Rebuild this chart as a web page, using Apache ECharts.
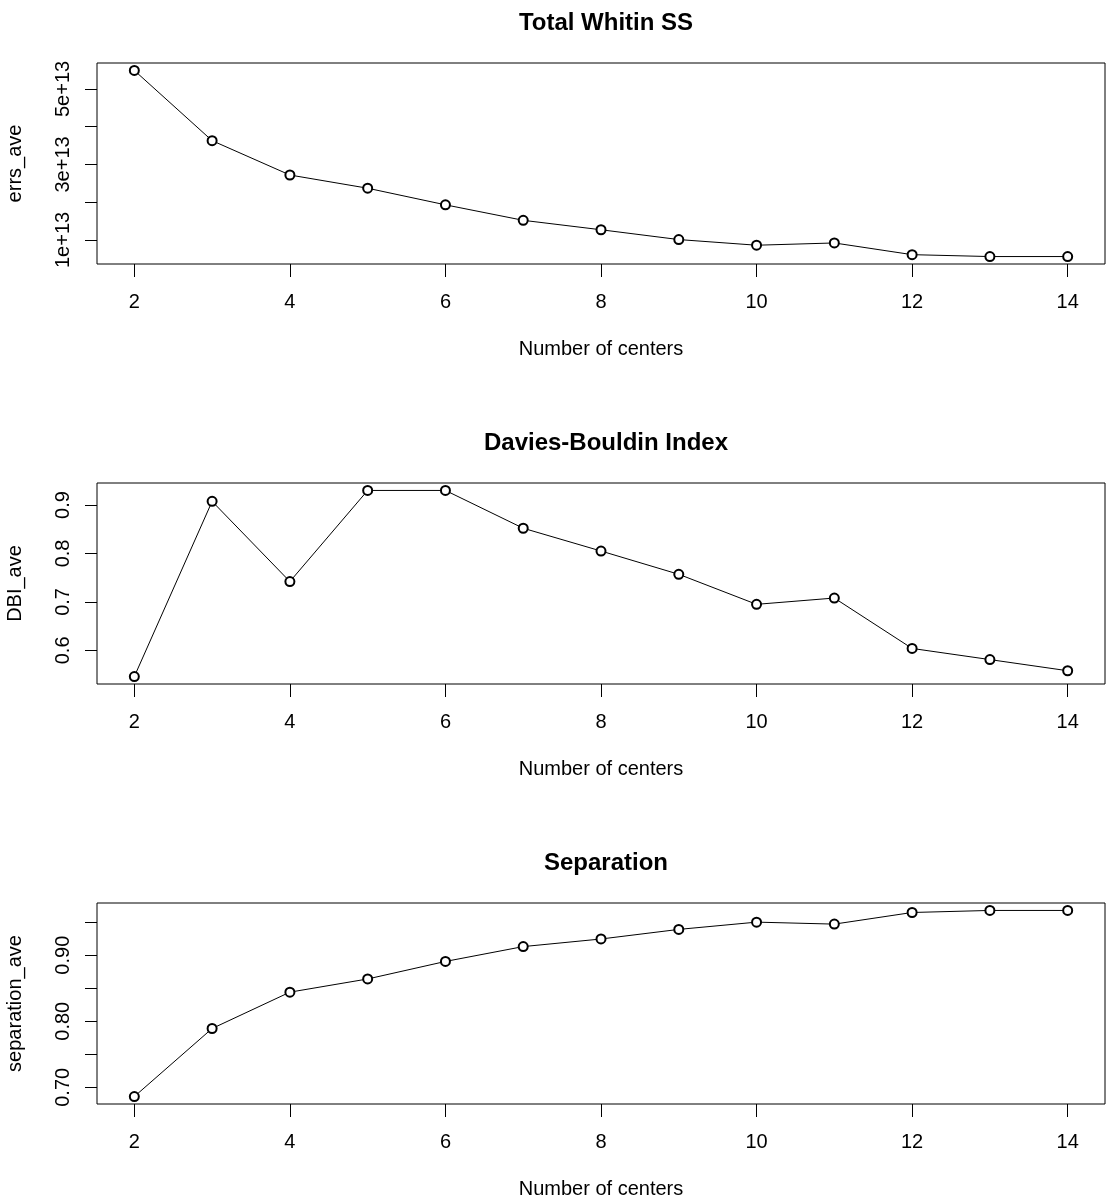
<!DOCTYPE html>
<html>
<head>
<meta charset="utf-8">
<script src="https://cdn.jsdelivr.net/npm/echarts@6/dist/echarts.min.js"></script>
<style>
  html, body { margin: 0; padding: 0; background: #fff; }
  #chart { width: 1110px; height: 1200px; }
</style>
</head>
<body>
<div id="chart"></div>
<script>
// number of centers (x)
const centers = [2, 3, 4, 5, 6, 7, 8, 9, 10, 11, 12, 13, 14]
// values
const errsAve = [5.49e13, 3.63e13, 2.72e13, 2.37e13, 1.93e13, 1.52e13, 1.27e13, 1.01e13, 0.86e13, 0.92e13, 0.61e13, 0.56e13, 0.56e13]
const dbiAve = [0.546, 0.9075, 0.742, 0.930, 0.930, 0.852, 0.805, 0.757, 0.695, 0.708, 0.604, 0.581, 0.558]
const separationAve = [0.686, 0.789, 0.844, 0.864, 0.8905, 0.913, 0.9245, 0.939, 0.950, 0.947, 0.9646, 0.9677, 0.9677]
// tick marks / labels
const xTicks = [2, 4, 6, 8, 10, 12, 14]
const errsTicks = [1e13, 2e13, 3e13, 4e13, 5e13]
const errsLabels = [1e13, 3e13, 5e13]
const dbiTicks = [0.6, 0.7, 0.8, 0.9]
const sepTicks = [0.70, 0.75, 0.80, 0.85, 0.90, 0.95]
const sepLabels = [0.70, 0.80, 0.90]

const titles = ['Total Whitin SS', 'Davies-Bouldin Index', 'Separation']
const yNames = ['errs_ave', 'DBI_ave', 'separation_ave']
const xName = 'Number of centers'

const FONT = 'Liberation Sans, Arial, sans-serif'

// R style 4% padding of axis range
function rRange (arr) {
  const lo = Math.min(...arr)
  const hi = Math.max(...arr)
  const pad = (hi - lo) * 0.04
  return [lo - pad, hi + pad]
}

const chart = echarts.init(document.getElementById('chart'))

const gridTops = [63, 483, 903]
const xr = rRange(centers)
const panels = [
  { data: errsAve, ticks: errsTicks, labels: errsLabels, fmt: v => Math.round(v / 1e13) + 'e+13' },
  { data: dbiAve, ticks: dbiTicks, labels: dbiTicks, fmt: v => v.toFixed(1) },
  { data: separationAve, ticks: sepTicks, labels: sepLabels, fmt: v => v.toFixed(2) }
]

const grid = []
const xAxis = []
const yAxis = []
const series = []
const title = []

panels.forEach((p, i) => {
  grid.push({
    left: 97, top: gridTops[i], width: 1008, height: 201,
    show: true, borderColor: '#000', borderWidth: 1,
    outerBoundsMode: 'none'
  })
  title.push({
    text: titles[i],
    left: 601,
    top: gridTops[i] - 57,
    textAlign: 'center',
    textStyle: { fontFamily: FONT, fontSize: 24, fontWeight: 'bold', color: '#000' }
  })
  xAxis.push({
    type: 'value', gridIndex: i, min: xr[0], max: xr[1],
    name: xName, nameLocation: 'middle', nameGap: 75,
    nameTextStyle: { fontFamily: FONT, fontSize: 20, color: '#000' },
    axisLine: { show: false },
    axisTick: { show: true, length: 13, lineStyle: { color: '#000' }, customValues: xTicks },
    axisLabel: { fontFamily: FONT, fontSize: 20, color: '#000', margin: 28, customValues: xTicks },
    splitLine: { show: false }
  })
  const yr = rRange(p.data)
  yAxis.push({
    type: 'value', gridIndex: i, min: yr[0], max: yr[1],
    name: yNames[i], nameLocation: 'middle', nameGap: 72, nameRotate: 90,
    nameTextStyle: { fontFamily: FONT, fontSize: 20, color: '#000' },
    axisLine: { show: false },
    axisTick: { show: true, length: 12, lineStyle: { color: '#000' }, customValues: p.ticks },
    axisLabel: {
      fontFamily: FONT, fontSize: 20, color: '#000', rotate: 90, margin: 24,
      customValues: p.labels, formatter: p.fmt
    },
    splitLine: { show: false }
  })
  series.push({
    type: 'line',
    xAxisIndex: i,
    yAxisIndex: i,
    data: centers.map((c, k) => [c, p.data[k]]),
    symbol: 'emptyCircle',
    symbolSize: 9,
    showAllSymbol: true,
    lineStyle: { color: '#000', width: 1 },
    itemStyle: { color: '#000', borderColor: '#000', borderWidth: 1.5 },
    animation: false
  })
})

const option = {
  backgroundColor: '#fff',
  animation: false,
  title: title,
  grid: grid,
  xAxis: xAxis,
  yAxis: yAxis,
  series: series
}
chart.setOption(option)
</script>
</body>
</html>
